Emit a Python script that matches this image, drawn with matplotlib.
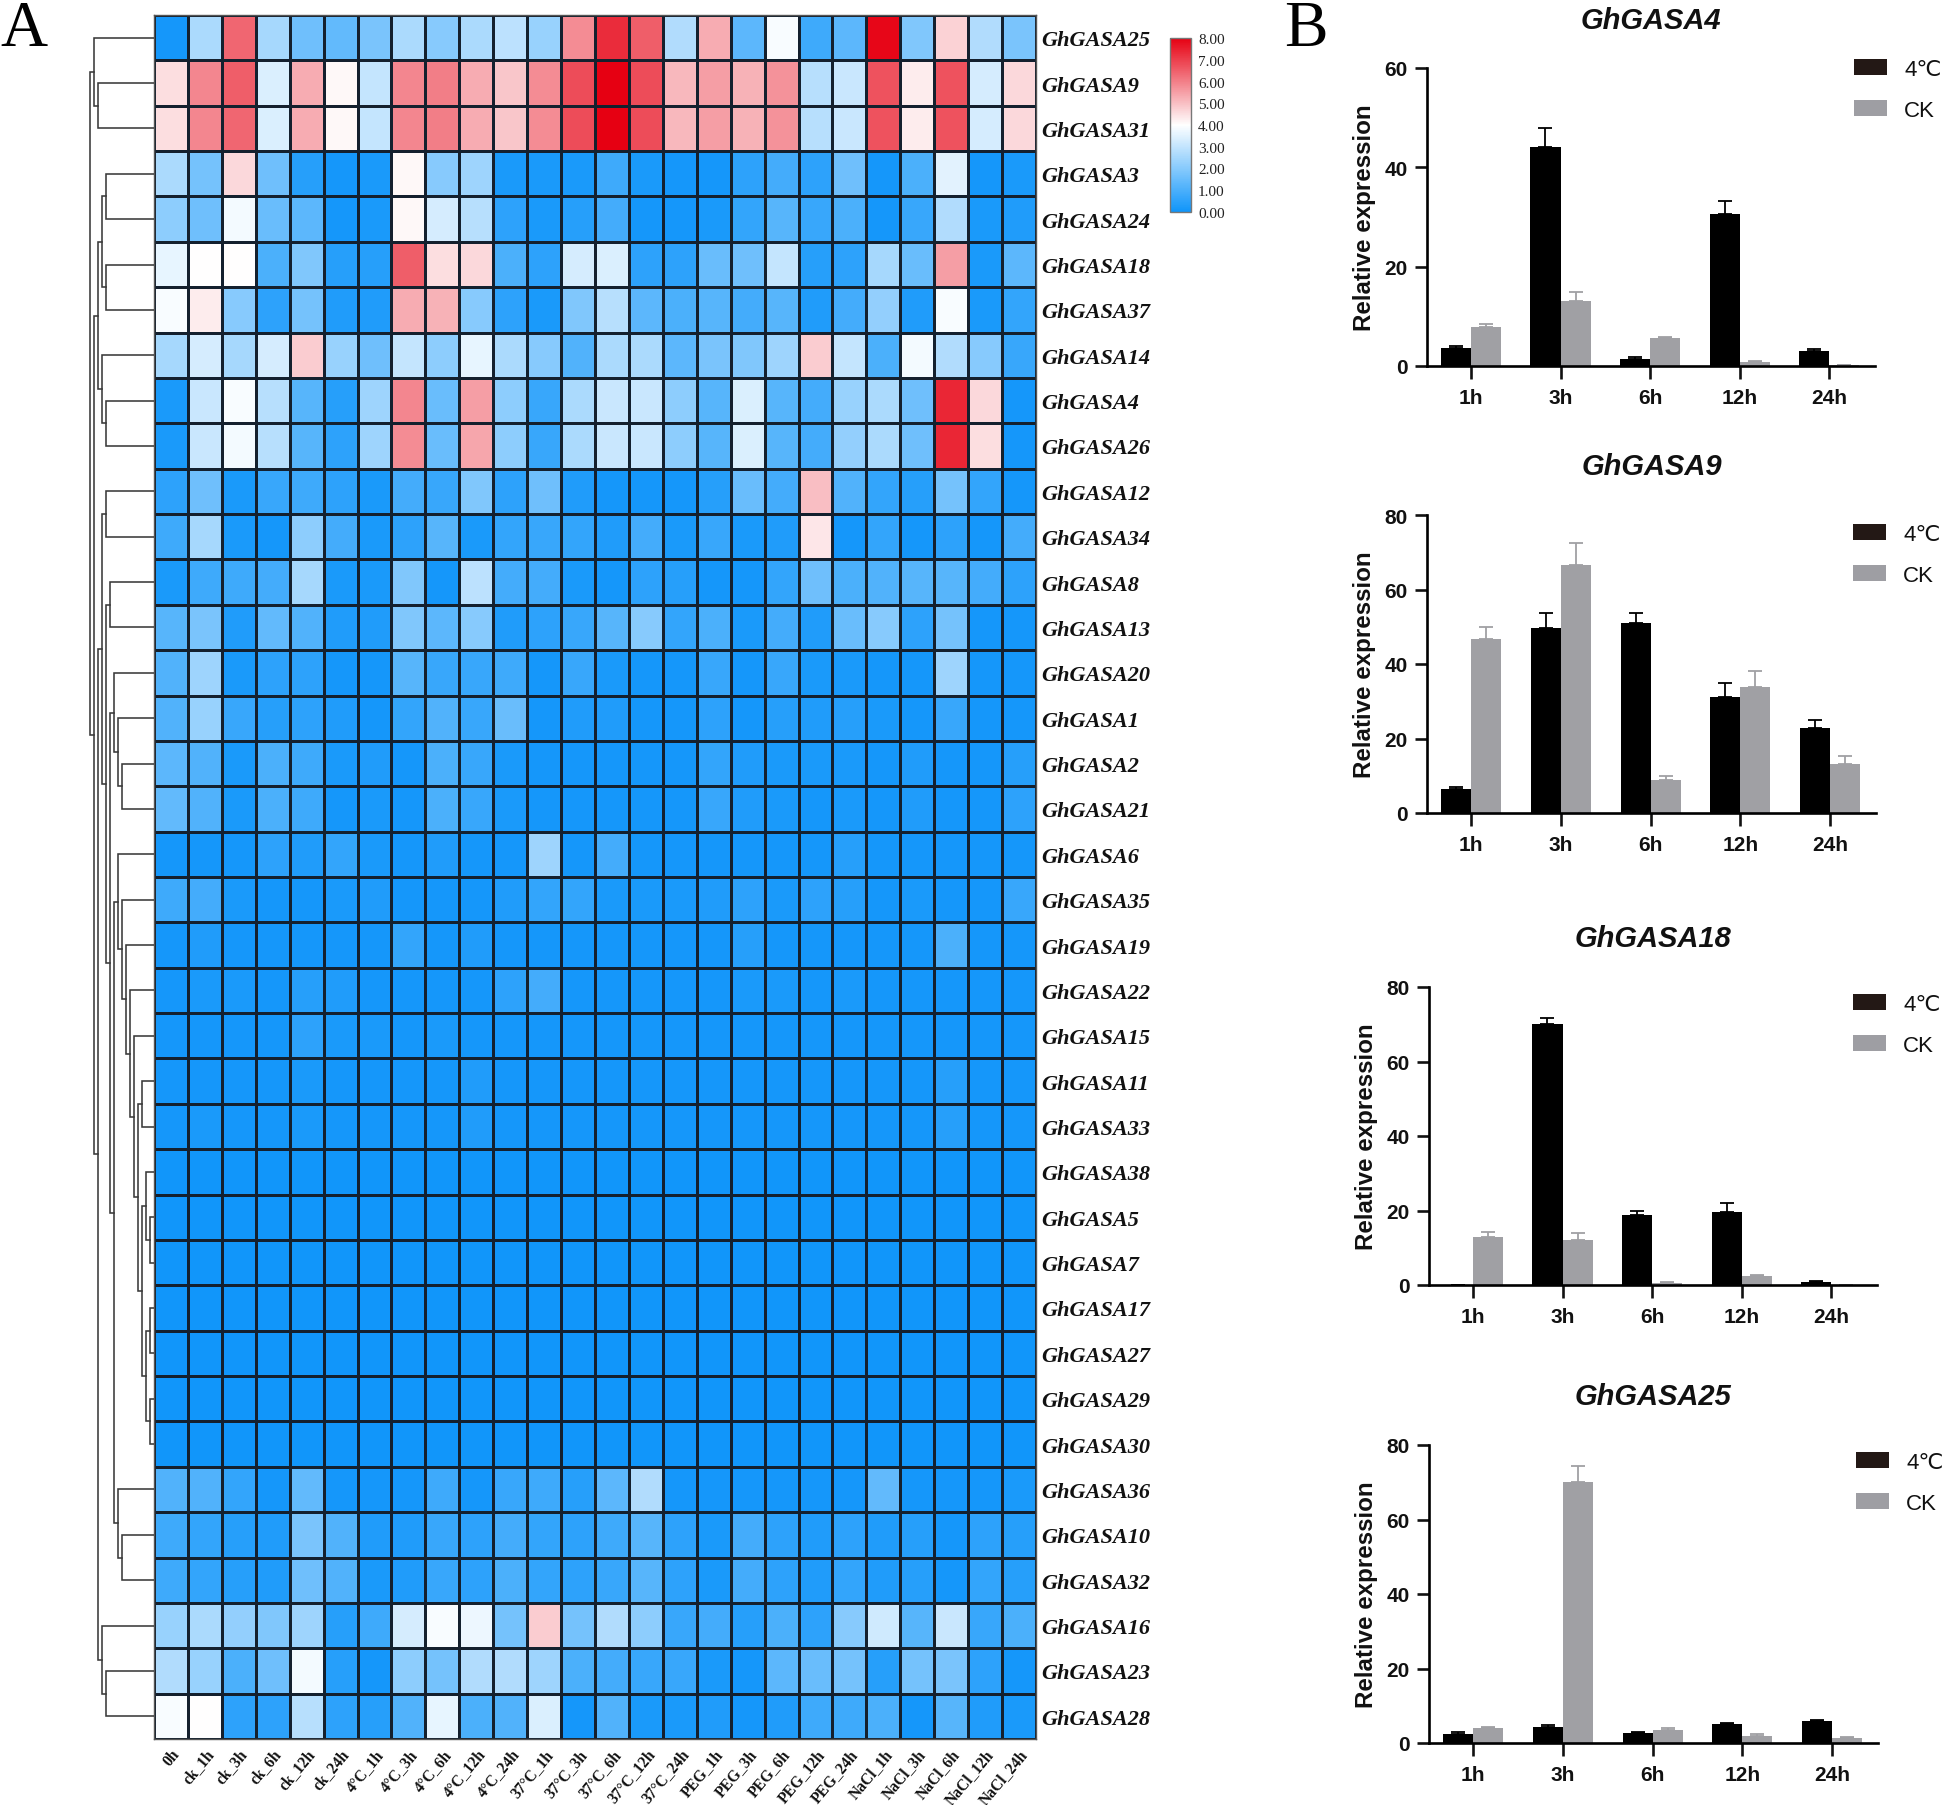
import matplotlib
matplotlib.use('Agg')
import matplotlib.pyplot as plt
import numpy as np
from matplotlib.colors import LinearSegmentedColormap

W, H = 1946, 1806

genes = ['GhGASA25', 'GhGASA9', 'GhGASA31', 'GhGASA3', 'GhGASA24', 'GhGASA18', 'GhGASA37', 'GhGASA14',
         'GhGASA4', 'GhGASA26', 'GhGASA12', 'GhGASA34', 'GhGASA8', 'GhGASA13', 'GhGASA20', 'GhGASA1',
         'GhGASA2', 'GhGASA21', 'GhGASA6', 'GhGASA35', 'GhGASA19', 'GhGASA22', 'GhGASA15', 'GhGASA11',
         'GhGASA33', 'GhGASA38', 'GhGASA5', 'GhGASA7', 'GhGASA17', 'GhGASA27', 'GhGASA29', 'GhGASA30',
         'GhGASA36', 'GhGASA10', 'GhGASA32', 'GhGASA16', 'GhGASA23', 'GhGASA28']

conditions = ['0h', 'ck_1h', 'ck_3h', 'ck_6h', 'ck_12h', 'ck_24h',
              '4°C_1h', '4°C_3h', '4°C_6h', '4°C_12h', '4°C_24h',
              '37°C_1h', '37°C_3h', '37°C_6h', '37°C_12h', '37°C_24h',
              'PEG_1h', 'PEG_3h', 'PEG_6h', 'PEG_12h', 'PEG_24h',
              'NaCl_1h', 'NaCl_3h', 'NaCl_6h', 'NaCl_12h', 'NaCl_24h']

# one row per gene, same order as genes
expr = [
    [.1, 2.6, 6.4, 2.5, 1.6, 1.4, 1.8, 2.6, 2.0, 2.6, 2.9, 2.3, 5.8, 7.3, 6.5, 2.7, 5.3, 1.3, 3.9, .8, 1.3, 7.9, 1.9, 4.7, 2.7, 1.8],
    [4.5, 5.9, 6.5, 3.4, 5.3, 4.1, 3.0, 5.9, 6.0, 5.3, 4.9, 5.8, 6.8, 8.0, 6.8, 5.1, 5.5, 5.2, 5.7, 2.8, 3.1, 6.7, 4.3, 6.7, 3.3, 4.6],
    [4.5, 5.9, 6.4, 3.4, 5.3, 4.1, 3.0, 5.9, 6.0, 5.3, 4.9, 5.8, 6.8, 8.0, 6.8, 5.1, 5.5, 5.2, 5.7, 2.8, 3.1, 6.7, 4.3, 6.7, 3.3, 4.6],
    [2.6, 1.7, 4.6, 1.6, .4, .1, .2, 4.1, 2.0, 2.4, .2, .2, .2, .8, .2, .1, .1, .5, .9, .5, 1.6, .1, 1.0, 3.5, .1, .2],
    [2.1, 1.6, 3.8, 1.5, 1.3, .1, .2, 4.1, 3.3, 2.8, .5, .2, .4, .9, .1, .1, .2, .6, 1.2, .7, 1.0, .1, .7, 2.7, .2, .3],
    [3.6, 4.0, 4.0, 1.0, 1.9, .4, .4, 6.5, 4.5, 4.6, 1.0, .5, 3.3, 3.4, .5, .5, 1.5, 1.6, 3.0, .4, .5, 2.5, 1.5, 5.5, .2, 1.3],
    [3.9, 4.3, 2.0, .5, 1.7, .3, .3, 5.3, 5.2, 2.0, .5, .2, 1.9, 2.8, 1.3, 1.0, 1.2, .9, 1.2, .3, .9, 2.2, .3, 3.9, .2, .6],
    [2.5, 3.3, 2.5, 3.3, 4.8, 2.3, 1.6, 3.0, 2.1, 3.6, 2.6, 2.0, 1.1, 2.6, 2.6, 1.3, 1.8, 1.9, 2.4, 4.8, 3.0, 1.0, 3.8, 2.7, 2.0, .7],
    [.2, 3.1, 3.9, 2.8, 1.2, .4, 2.4, 5.9, 1.5, 5.5, 2.1, .7, 2.6, 3.1, 3.1, 2.1, 1.2, 3.4, 1.2, .9, 2.3, 2.6, 1.6, 7.4, 4.6, .1],
    [.2, 3.1, 3.8, 2.8, 1.2, .5, 2.4, 5.8, 1.5, 5.4, 2.1, .7, 2.6, 3.1, 3.1, 2.1, 1.2, 3.4, 1.2, .9, 2.2, 2.6, 1.6, 7.4, 4.5, .1],
    [.5, 1.6, .2, .7, .8, .5, .2, .9, .7, 1.9, .5, 1.6, .3, .1, .1, .1, .4, 1.5, .9, 5.0, 1.1, .6, .4, 1.7, .6, .1],
    [.8, 2.5, .2, .1, 2.1, .9, .2, .5, 1.2, .2, .6, .7, .6, .3, .9, .2, .7, .2, .3, 4.4, .1, .6, .1, .5, .1, .9],
    [.2, .8, .8, .9, 2.5, .2, .2, 1.9, .1, 2.9, .9, .9, .2, .1, .5, .4, .1, .1, .6, 1.6, 1.0, 1.1, 1.2, 1.2, .9, .5],
    [1.2, 1.8, .3, 1.4, 1.1, .3, .3, 1.9, 1.3, 2.0, .3, .5, .7, 1.2, 2.0, .6, 1.0, .2, .9, .3, 1.5, 2.0, .5, 1.7, .1, .1],
    [1.1, 2.4, .2, .5, .5, .1, .1, 1.2, .7, .7, .8, .1, .7, .2, .1, .1, .7, .1, .7, .2, .2, .1, .1, 2.4, .1, .1],
    [1.1, 2.3, .7, .4, .5, .3, .1, .6, 1.1, .7, 1.5, .1, .3, .3, .1, .1, .5, .1, .4, .3, .4, .2, .1, .7, .1, .1],
    [1.3, 1.1, .2, 1.0, .8, .2, .3, .1, 1.0, .7, .2, .1, .1, .1, .1, .1, .6, .3, .2, .2, .2, .1, .3, .1, .1, .4],
    [1.4, 1.1, .2, 1.0, .8, .1, .2, .1, 1.0, .7, .2, .1, .1, .1, .1, .1, .7, .3, .2, .1, .2, .1, .3, .1, .1, .5],
    [.1, .1, .1, .5, .3, .6, .2, .1, .3, .1, .1, 2.4, .1, .9, .1, .1, .1, .1, .1, .1, .4, .1, .1, .1, .1, .1],
    [.8, .9, .2, .1, .1, .2, .3, .1, .1, .1, .3, .6, .6, .2, .2, .2, .3, .5, .2, .5, .4, .1, .2, .1, .1, .7],
    [.1, .3, .1, .1, .1, .1, .1, .6, .1, .3, .1, .1, .1, .1, .1, .1, .1, .4, .1, .1, .1, .1, .1, 1.0, .1, .1],
    [.1, .2, .2, .1, .4, .3, .1, .1, .1, .1, .5, .9, .1, .1, .1, .1, .1, .2, .2, .1, .2, .1, .1, .1, .1, .1],
    [.1, .1, .1, .1, .5, .2, .2, .1, .2, .1, .1, .1, .1, .1, .1, .1, .1, .1, .1, .1, .1, .1, .1, .1, .1, .1],
    [.1, .1, .1, .1, .2, .1, .1, .1, .1, .3, .1, .1, .1, .1, .1, .1, .1, .1, .1, .1, .1, .1, .1, .4, .1, .1],
    [.1, .2, .1, .1, .2, .1, .1, .1, .1, .3, .1, .1, .1, .1, .1, .1, .1, .1, .1, .1, .1, .1, .1, .4, .1, .1],
    [.05, .05, .05, .05, .05, .05, .05, .05, .05, .05, .05, .05, .05, .05, .05, .05, .05, .05, .05, .05, .05, .05, .05, .05, .05, .05],
    [.05, .05, .05, .05, .05, .05, .05, .05, .05, .05, .05, .05, .05, .05, .05, .05, .05, .05, .05, .05, .05, .05, .05, .05, .05, .05],
    [.05, .05, .05, .05, .05, .05, .05, .05, .05, .05, .05, .05, .05, .05, .05, .05, .05, .05, .05, .05, .05, .05, .05, .05, .05, .05],
    [.05, .05, .05, .05, .05, .05, .05, .05, .05, .05, .05, .05, .05, .05, .05, .05, .05, .05, .05, .05, .05, .05, .05, .05, .05, .05],
    [.05, .05, .05, .05, .05, .05, .05, .05, .05, .05, .05, .05, .05, .05, .05, .05, .05, .05, .05, .05, .05, .05, .05, .05, .05, .05],
    [.05, .05, .05, .05, .05, .05, .05, .05, .05, .05, .05, .05, .05, .05, .05, .05, .05, .05, .05, .05, .05, .05, .05, .05, .05, .05],
    [.05, .05, .05, .05, .05, .05, .05, .05, .05, .05, .05, .05, .05, .05, .05, .05, .05, .05, .05, .05, .05, .05, .05, .05, .05, .05],
    [1.1, 1.1, .6, .1, 1.4, .1, .1, .1, .8, .1, .7, .8, .4, 1.3, 2.7, .1, .1, .1, .1, .1, .1, 1.4, .1, .1, .1, .2],
    [.8, .6, .4, .3, 1.8, 1.1, .3, .3, .7, .5, .9, .6, .5, .8, 1.2, .5, .2, .9, .5, .3, .5, .3, .4, .1, .5, .4],
    [.8, .6, .4, .3, 1.6, 1.1, .2, .3, .7, .5, 1.0, .6, .5, .7, 1.2, .5, .2, .9, .5, .3, .6, .3, .4, .1, .6, .4],
    [2.3, 2.6, 2.2, 1.9, 2.4, .4, .8, 3.3, 3.9, 3.7, 1.7, 4.8, 1.7, 2.7, 2.1, .7, .9, .4, 1.0, .5, 2.0, 3.2, 1.2, 3.1, .7, 1.0],
    [2.7, 2.3, 1.0, 1.6, 3.8, .4, .1, 2.1, 1.7, 2.7, 2.7, 2.4, 1.0, .9, .7, .7, .2, .1, 1.3, 1.5, 1.7, .4, 1.7, 1.8, .5, .1],
    [3.9, 4.0, .5, .5, 2.8, .5, .4, 1.1, 3.6, 1.0, 1.1, 3.4, .1, 1.1, .2, .2, .3, .1, .3, .8, .8, 1.0, .1, 1.2, .3, .2],
]

# (merge distance, child, child), leaves are gene names
tree = (64,
        (60, 'GhGASA25', (56, 'GhGASA9', 'GhGASA31')),
        (60,
         (56,
          (52, (48, 'GhGASA3', 'GhGASA24'), (48, 'GhGASA18', 'GhGASA37')),
          (52, 'GhGASA14', (48, 'GhGASA4', 'GhGASA26'))),
         (56,
          (52,
           (48, 'GhGASA12', 'GhGASA34'),
           (48,
            (44, 'GhGASA8', 'GhGASA13'),
            (44,
             (40, 'GhGASA20', (36, 'GhGASA1', (32, 'GhGASA2', 'GhGASA21'))),
             (40,
              (36, 'GhGASA6',
               (32, 'GhGASA35',
                (28, 'GhGASA19',
                 (24, 'GhGASA22',
                  (20, 'GhGASA15',
                   (16,
                    (12, 'GhGASA11', 'GhGASA33'),
                    (12,
                     (8, 'GhGASA38', (4, 'GhGASA5', 'GhGASA7')),
                     (8, (4, 'GhGASA17', 'GhGASA27'), (4, 'GhGASA29', 'GhGASA30'))))))))),
              (36, 'GhGASA36', (32, 'GhGASA10', 'GhGASA32')))))),
          (52, 'GhGASA16', (48, 'GhGASA23', 'GhGASA28')))))

times = ['1h', '3h', '6h', '12h', '24h']

a4_cold = [3.7, 44, 1.5, 30.7, 3.1]
a4_cold_err = [.4, 4, .3, 2.6, .4]
a4_ck = [7.9, 13, 5.7, .8, .2]
a4_ck_err = [.5, 2, .1, .3, .1]

a9_cold = [6.4, 49.6, 51, 31.2, 22.8]
a9_cold_err = [.6, 4.2, 2.6, 3.6, 2.2]
a9_ck = [46.6, 66.5, 8.9, 33.9, 13.2]
a9_ck_err = [3.4, 5.9, 1.1, 4.1, 2.2]

a18_cold = [0, 70.2, 18.9, 19.6, .9]
a18_cold_err = [0, 1.4, 1.1, 2.3, .2]
a18_ck = [13, 12.1, .5, 2.4, 0]
a18_ck_err = [1.2, 1.8, .3, .4, 0]

a25_cold = [2.3, 4.4, 2.6, 5, 5.9]
a25_cold_err = [.6, .5, .4, .4, .2]
a25_ck = [4.1, 70, 3.6, 2, 1.4]
a25_ck_err = [.2, 4.3, .3, .5, .3]


def px_axes(fig, left, top, right, bottom):
    return fig.add_axes([left / W, 1 - bottom / H, (right - left) / W, (bottom - top) / H])


def px_text(fig, x, y, s, **kw):
    fig.text(x / W, 1 - y / H, s, **kw)


def draw_node(ax, node):
    # returns (distance, row position) of the node
    if isinstance(node, str):
        return 0, genes.index(node) + 0.5
    h, a, b = node
    ha, ya = draw_node(ax, a)
    hb, yb = draw_node(ax, b)
    ax.plot([ha, h, h, hb], [ya, ya, yb, yb], color='#3a3a3a', lw=1.15, solid_joinstyle='miter')
    return h, (ya + yb) / 2


def plot_bars(fig, box, title, title_xy, cold, cold_err, ck, ck_err, y_max, y_step, legend_xy):
    left, top, right, bottom = box
    ax = px_axes(fig, left, top, right, bottom)
    x = np.arange(len(times))
    width = 0.335
    ax.bar(x - width / 2, cold, width, color='black', label='4℃', zorder=1)
    ax.bar(x + width / 2, ck, width, color='#A0A0A4', label='CK', zorder=1)
    ax.errorbar(x - width / 2, cold, yerr=[np.zeros(len(x)), cold_err], fmt='none', ecolor='black',
                elinewidth=1.3, capsize=5, capthick=1.3, zorder=2)
    ax.errorbar(x + width / 2, ck, yerr=[np.zeros(len(x)), ck_err], fmt='none', ecolor='#A0A0A4',
                elinewidth=1.3, capsize=5, capthick=1.3, zorder=2)
    ax.set_xlim(-0.49, 4.51)
    ax.set_ylim(0, y_max)
    ax.set_xticks(x)
    ax.set_xticklabels(times)
    ax.set_yticks(np.arange(0, y_max + 1, y_step))
    for s in ['top', 'right']:
        ax.spines[s].set_visible(False)
    for s in ['left', 'bottom']:
        ax.spines[s].set_linewidth(1.9)
    ax.tick_params(length=9, width=1.9, labelsize=15, pad=5, colors='#111111')
    ax.tick_params(axis='x', pad=7)
    for lab in ax.get_xticklabels() + ax.get_yticklabels():
        lab.set_fontweight('bold')
    ax.set_ylabel('Relative expression', fontsize=17.4, fontweight='bold', color='#111111')
    ax.yaxis.set_label_coords(-51 / (right - left), 0.5)
    px_text(fig, title_xy[0], title_xy[1], title, fontsize=21, fontweight='bold', fontstyle='italic',
            ha='center', va='center', color='#111111')
    leg = ax.legend(loc='upper left', bbox_to_anchor=(legend_xy[0] / W, 1 - legend_xy[1] / H),
                    bbox_transform=fig.transFigure, frameon=False, fontsize=16, borderpad=0, borderaxespad=0,
                    handlelength=1.49, handleheight=0.72, handletextpad=0.77, labelspacing=0.9,
                    labelcolor='#111111')
    leg.get_patches()[0].set_facecolor('#231815')
    leg.get_patches()[1].set_facecolor('#9E9EA3')


if __name__ == "__main__":
    plt.rcParams['font.family'] = ['Liberation Sans', 'DejaVu Sans']
    fig = plt.figure(figsize=(W / 100, H / 100), dpi=100, facecolor='white')

    # heatmap
    data = np.array(expr)
    cmap = LinearSegmentedColormap.from_list('bwr_gasa', ['#0F95FA', '#FFFFFF', '#E60012'])
    heat_left, heat_top, heat_right, heat_bottom = 154, 16, 1036, 1740
    ax = px_axes(fig, heat_left, heat_top, heat_right, heat_bottom)
    mesh = ax.pcolormesh(data, cmap=cmap, vmin=0, vmax=8, edgecolors='#14202e', linewidth=0.82)
    ax.set_xlim(0, len(conditions))
    ax.set_ylim(len(genes), 0)
    for s in ax.spines.values():
        s.set_color('#555555')
        s.set_linewidth(1.0)
    ax.yaxis.tick_right()
    ax.set_yticks(np.arange(len(genes)) + 0.5)
    ax.set_yticklabels(genes, family='Liberation Serif', fontweight='bold', fontstyle='italic',
                       fontsize=16, color='#111111')
    ax.set_xticks(np.arange(len(conditions)) + 0.5)
    ax.set_xticklabels(conditions, family='Liberation Serif', fontweight='bold', fontsize=11.2, rotation=50,
                       ha='right', va='top', rotation_mode='anchor', color='#111111')
    ax.tick_params(axis='y', length=0, pad=4)
    ax.tick_params(axis='x', length=0, pad=5)
    for lab in ax.get_yticklabels():
        lab.set_verticalalignment('center_baseline')

    # dendrogram
    ax_tree = px_axes(fig, 80, heat_top, heat_left, heat_bottom)
    draw_node(ax_tree, tree)
    ax_tree.set_xlim(74, 0)
    ax_tree.set_ylim(len(genes), 0)
    ax_tree.axis('off')

    # colour scale
    cax = px_axes(fig, 1170, 39, 1191, 213)
    cbar = fig.colorbar(mesh, cax=cax, ticks=np.arange(0, 9))
    cbar.ax.set_yticklabels(['%.2f' % v for v in np.arange(0, 9)], family='Liberation Serif', fontsize=11,
                            color='#222222')
    cbar.ax.tick_params(length=0, pad=5)
    cbar.outline.set_edgecolor('#777777')
    cbar.outline.set_linewidth(1.0)

    # panel letters
    px_text(fig, 0, 46, 'A', family='Liberation Serif', fontsize=47, color='black', va='baseline')
    px_text(fig, 1284, 46, 'B', family='Liberation Serif', fontsize=47, color='black', va='baseline')

    plot_bars(fig, (1427, 69, 1875, 367), 'GhGASA4', (1651, 21), a4_cold, a4_cold_err, a4_ck, a4_ck_err,
              60, 20, (1854, 60))
    plot_bars(fig, (1427, 516, 1876, 814), 'GhGASA9', (1652, 467), a9_cold, a9_cold_err, a9_ck, a9_ck_err,
              80, 20, (1853, 525))
    plot_bars(fig, (1429, 988, 1877, 1286), 'GhGASA18', (1653, 939), a18_cold, a18_cold_err, a18_ck, a18_ck_err,
              80, 20, (1853, 995))
    plot_bars(fig, (1429, 1446, 1878, 1744), 'GhGASA25', (1653, 1397), a25_cold, a25_cold_err, a25_ck, a25_ck_err,
              80, 20, (1856, 1453))

    fig.savefig('out.png', dpi=100, facecolor='white')
